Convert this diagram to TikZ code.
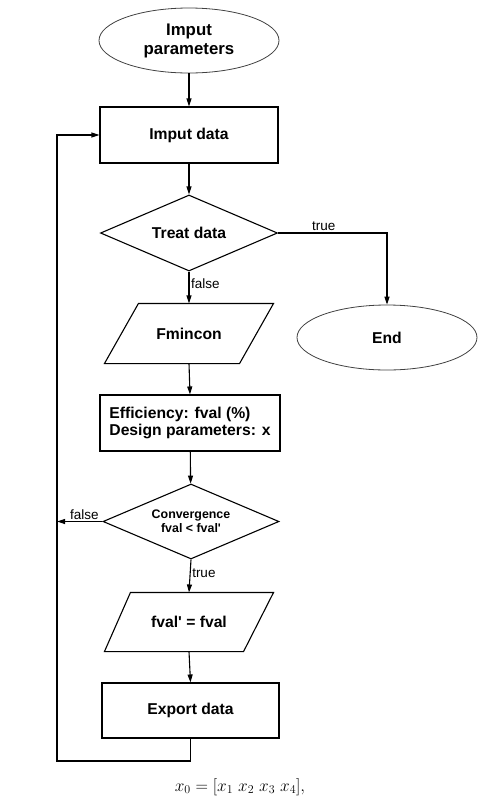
\documentclass[tikz,border=0pt]{standalone}
\usepackage{fontspec}
\setmainfont{Liberation Sans}
\usetikzlibrary{shapes.geometric,arrows.meta}
\begin{document}
\begin{tikzpicture}[x=1pt,y=-1pt,
  base/.style={draw=black, line width=1.1pt, font=\fontsize{15.7}{17}\selectfont\bfseries, align=center, inner sep=0pt},
  term/.style={base, ellipse, line width=0.8pt, draw=black!75, minimum width=180pt, minimum height=65pt},
  proc/.style={base, rectangle, minimum width=178pt, minimum height=56pt},
  dec/.style={base, diamond, aspect=2.3, minimum width=177pt, minimum height=76pt},
  iotext/.style={base, draw=none, rectangle, minimum width=168pt},
  iopath/.style={draw=black, line width=1.1pt, line join=miter},
  conn/.style={line width=1.1pt, -{Triangle[length=8pt,width=5pt]}},
  lbl/.style={font=\fontsize{13.5}{15}\selectfont, inner sep=1.5pt}
]
\useasboundingbox (0,0) rectangle (483,804);
\node[term, font=\fontsize{16.8}{19}\selectfont\bfseries] (ip) at (189,40.5) {Imput\\parameters};
\node[proc] (id) at (189,135) {Imput data};
\node[dec] (td) at (189,233) {Treat data};
\node[iotext, minimum height=59pt] (fm) at (189,333.5) {Fmincon};
\draw[iopath] (fm.south west) -- ([xshift=34pt]fm.north west) -- (fm.north east) -- ([xshift=-34pt]fm.south east) -- cycle;
\node[term] (end) at (387,337.5) {End};
\node[proc, minimum width=180pt, align=left] (eff) at (190,423) {Efficiency: fval (\%)\\Design parameters: x};
\node[dec, font=\fontsize{12.4}{14}\selectfont\bfseries, minimum width=176pt, minimum height=75pt] (conv) at (191,521.5) {Convergence\\fval < fval\textquotesingle};
\node[iotext, minimum height=58pt] (fv) at (189,622) {fval\textquotesingle{} = fval};
\draw[iopath] (fv.south west) -- ([xshift=26pt]fv.north west) -- (fv.north east) -- ([xshift=-30pt]fv.south east) -- cycle;
\node[proc, minimum width=177pt, minimum height=55pt] (ex) at (190.5,710.5) {Export data};
\coordinate (cf) at (57,521.5);
\coordinate (lb) at (57,761);
\node[inner sep=0pt, font=\fontsize{18}{20}\selectfont] (eq) at (240,787) {$x_0=[x_1\ x_2\ x_3\ x_4],$};

\draw[conn] (ip) -- (id);
\draw[conn] (id) -- (td);
\draw[conn] (td.east) -| node[lbl, above, pos=0.21] {true} (end.north);
\draw[conn] (td.south) -- node[lbl, right, pos=0.38] {false} (fm.north);
\draw[conn] (fm.south) -- (eff.north);
\draw[conn] (eff) -- (conv);
\draw[conn] (conv.south) -- node[lbl, right, pos=0.4] {true} (fv.north);
\draw[conn] (fv.south) -- (ex.north);
\draw[conn] (conv.west) -- node[lbl, above, pos=0.4] {false} (cf);
\draw[conn] (ex.south) |- (lb) |- (id.west);
\end{tikzpicture}
\end{document}
